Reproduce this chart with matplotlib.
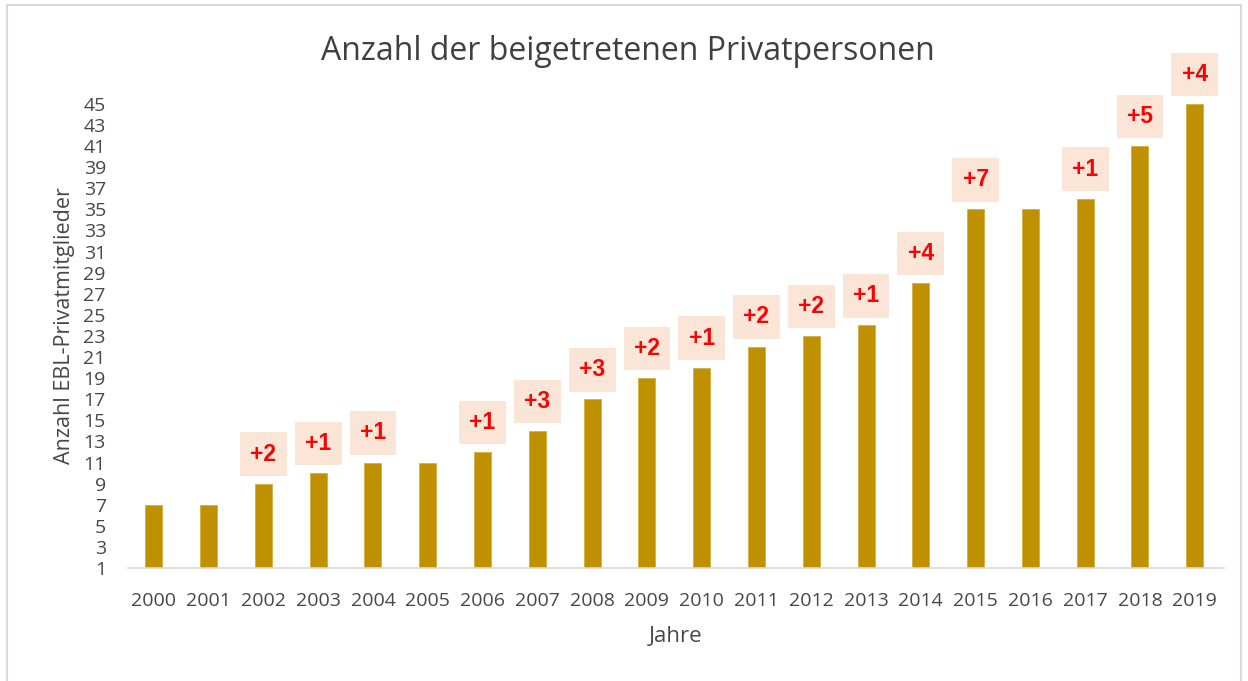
import matplotlib.pyplot as plt
from matplotlib.patches import Rectangle

# data
jahre = ['2000', '2001', '2002', '2003', '2004', '2005', '2006', '2007', '2008', '2009',
         '2010', '2011', '2012', '2013', '2014', '2015', '2016', '2017', '2018', '2019']
mitglieder = [7, 7, 9, 10, 11, 11, 12, 14, 17, 19, 20, 22, 23, 24, 28, 35, 35, 36, 41, 45]
zuwachs = ['', '', '+2', '+1', '+1', '', '+1', '+3', '+3', '+2',
           '+1', '+2', '+2', '+1', '+4', '+7', '', '+1', '+5', '+4']
y_ticks = list(range(1, 46, 2))

base = 1
text_col = '#474747'

fig = plt.figure(figsize=(12.48, 6.81), dpi=100)
fig.patches.append(Rectangle((0.006, -0.01), 0.988, 1.003, transform=fig.transFigure,
                             fill=False, edgecolor='#D9D9D9', linewidth=1.5))

ax = fig.add_axes([0.1026, 0.1659, 0.878, 0.7125])

x = range(len(jahre))
heights = [m - base for m in mitglieder]
ax.bar(x, heights, bottom=base, width=0.31, color='#BF9000', edgecolor='#D4B040', linewidth=0.6, zorder=2)

# boxed increase labels above the bars
for i, lab in enumerate(zuwachs):
    if lab:
        ax.annotate(lab, xy=(i, mitglieder[i]), xytext=(0, 13), textcoords='offset points',
                    ha='center', va='bottom', fontsize=16.5, fontweight='bold',
                    family='Liberation Sans', color='#FF0000', annotation_clip=False,
                    bbox=dict(boxstyle='square,pad=0.45', fc='#FBE5D6', ec='none'))

ax.set_xlim(-0.47, 19.53)
ax.set_ylim(base, 47.0)
ax.set_xticks(list(x))
ax.set_xticklabels(jahre, family='Open Sans', fontsize=14, color=text_col)
ax.set_yticks(y_ticks)
ax.set_yticklabels([str(t) for t in y_ticks], family='Open Sans', fontsize=14, color=text_col)
ax.tick_params(axis='both', length=0)
ax.tick_params(axis='x', pad=17)
ax.tick_params(axis='y', pad=16)

for s in ['top', 'right', 'left']:
    ax.spines[s].set_visible(False)
ax.spines['bottom'].set_color('#D9D9D9')
ax.spines['bottom'].set_linewidth(1.2)

ax.set_xlabel('Jahre', family='Open Sans', fontsize=16, color=text_col, labelpad=12)
ax.set_ylabel('Anzahl EBL-Privatmitglieder', family='Open Sans', fontsize=15.5, color=text_col, labelpad=6)

fig.text(0.503, 0.925, 'Anzahl der beigetretenen Privatpersonen', ha='center', va='center',
         family='Open Sans', fontsize=23, color='#404040')

fig.savefig('out.png', dpi=100)
